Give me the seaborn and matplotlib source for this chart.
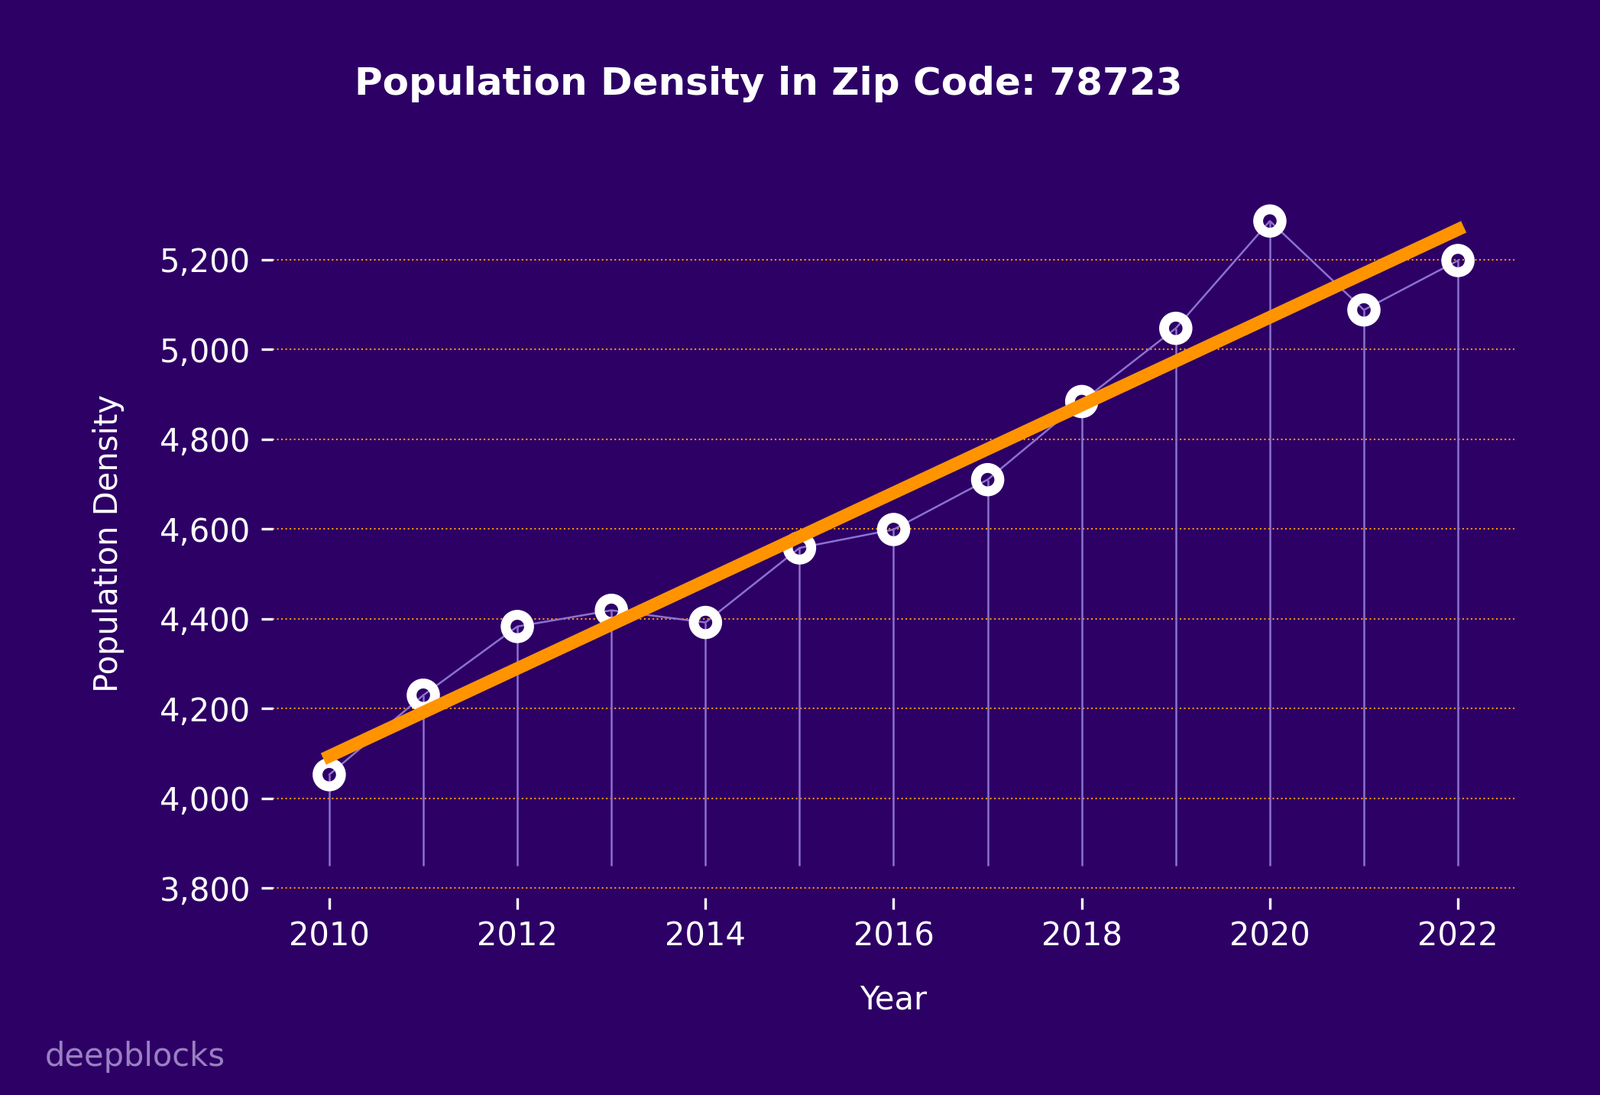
import matplotlib
matplotlib.use("Agg")
import matplotlib.pyplot as plt
import seaborn as sns
import pandas as pd
from matplotlib.ticker import FuncFormatter

# values
years = [2010, 2011, 2012, 2013, 2014, 2015, 2016, 2017, 2018, 2019, 2020, 2021, 2022]
density = [4053, 4230, 4383, 4419, 4392, 4558, 4599, 4710, 4884, 5047, 5286, 5088, 5198]
title = "Population Density in Zip Code: 78723"

bg = "#2d0066"
lavender = "#8c72d0"
orange = "#ff9400"

df = pd.DataFrame({"Year": years, "Population Density": density})

sns.set_style("dark")
plt.rcParams["font.family"] = ["DejaVu Sans"]

fig = plt.figure(figsize=(2094 / 300, 1433 / 300), dpi=300, facecolor=bg)
ax = fig.add_axes([0.1705, 0.180, 0.776, 0.6476])
ax.set_facecolor(bg)

# stems
ax.vlines(df["Year"], min(density) * 0.95, df["Population Density"],
          color=lavender, linewidth=0.6, zorder=2)
sns.lineplot(data=df, x="Year", y="Population Density", ax=ax,
             color=lavender, linewidth=0.6, zorder=3)
sns.scatterplot(data=df, x="Year", y="Population Density", ax=ax, s=54,
                facecolor="none", edgecolor="white", linewidth=3.1, zorder=4)
sns.regplot(data=df, x="Year", y="Population Density", ax=ax, scatter=False,
            ci=None, line_kws={"color": orange, "linewidth": 4, "zorder": 5,
                               "solid_capstyle": "projecting"})

ax.grid(axis="y", color=orange, linestyle=":", linewidth=0.5)
ax.grid(axis="x", visible=False)
ax.set_axisbelow(True)
for s in ax.spines.values():
    s.set_visible(False)

ax.set_xticks(years[::2])
ax.yaxis.set_major_formatter(FuncFormatter(lambda v, p: f"{v:,.0f}"))
ax.tick_params(axis="both", colors="white", labelsize=10, length=3.5, width=0.8,
               bottom=True, left=True)
ax.set_xlabel("Year", color="white", fontsize=10, labelpad=10)
ax.set_ylabel("Population Density", color="white", fontsize=10, labelpad=11)

fig.text(0.4804, 0.923, title, color="white", fontsize=12, fontweight="bold",
         ha="center", va="center")
fig.text(0.028, 0.035, "deepblocks", color="#9a80c2", fontsize=10,
         ha="left", va="center")

fig.savefig("out.png", dpi=300, facecolor=bg)
